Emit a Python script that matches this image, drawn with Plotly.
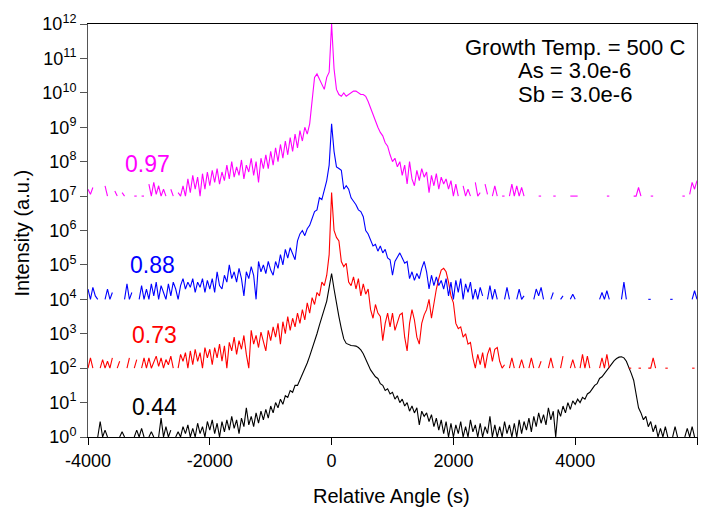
import plotly.graph_objects as go

# Measurement grid: relative angle (arc-seconds), 40 s step
angle = list(range(-4000, 6001, 40))

# log10(intensity) (None = no counts -> gap on log axis)
log_int_097 = [
    7.2, 7.05, 7.25, None, None, None, None, 7.3, 7.0, None, None, 7.15, 7.0, None, 7.1, 7.0, None, None, None, 7.0, 7.0, None, 7.0, 7.0, None,
    7.35, 7.0, 7.4, 7.05, 7.3, 7.0, 7.2, 7.0, None, 7.2, 7.0, None, 7.1, 7.0, 7.3, 7.0, 7.5, 7.1, 7.6, 7.2, 7.55, 7.0, 7.65, 7.2, 7.7,
    7.3, 7.75, 7.4, 7.8, 7.35, 7.7, 7.45, 7.9, 7.5, 8.0, 7.55, 7.85, 7.6, 8.05, 7.5, 7.9, 7.7, 8.1, 7.6, 8.0, 7.4, 8.1, 7.8, 8.2, 7.8,
    8.3, 7.9, 8.4, 8.0, 8.5, 8.1, 8.6, 8.2, 8.7, 8.3, 8.8, 8.4, 8.9, 8.6, 9.0, 8.8, 9.1, 9.7, 10.45, 10.55, 10.4, 10.2, 10.1, 10.45, 10.6,
    12.0,
    10.7, 10.1, 9.95, 9.9, 10.0, 9.9, 9.95, 10.0, 10.05, 10.05, 10.0, 9.95, 9.95, 9.9, 9.75, 9.55, 9.4, 9.2, 9.0, 8.85, 8.75, 8.55, 8.45, 8.2,
    8.0, 8.1, 7.85, 8.0, 7.6, 7.9, 7.35, 8.0, 7.5, 7.3, 7.75, 7.45, 7.8, 7.55, 7.7, 7.1, 7.6, 7.3, 7.65, 7.2, 7.55, 7.35, 7.5, 7.2, 7.45,
    7.0, 7.35, 7.0, None, 7.3, 7.0, 7.2, 7.0, None, 7.4, 7.0, 7.1, None, 7.35, 7.05, None, 7.0, 7.3, 7.0, None, 7.0, 7.0, None, 7.0, 7.35,
    7.0, 7.3, 7.0, 7.25, 7.0, None, None, None, None, None, 7.0, 7.0, None, None, None, None, 7.0, 7.0, None, None, None, None, None, 7.0, 7.0,
    7.0, 7.0, None, None, None, None, None, None, None, None, None, None, None, 7.0, 7.0, None, None, None, None, None, None, None, None, None, 7.0,
    7.0, 7.25, 7.0, None, None, None, 7.0, 7.0, None, None, None, None, None, None, None, None, None, None, None, 7.0, 7.0, None, 7.05, 7.4, 7.2, 7.45,
]

log_int_088 = [
    4.3, 4.0, 4.35, 4.1, 4.0, None, None, 4.0, 4.3, 4.0, 4.2, None, None, None, None, 4.0, 4.45, 4.0, 4.2, None, None, 4.0, 4.4, 4.0, 4.3,
    4.0, 4.45, 4.1, 4.5, 4.0, 4.4, 4.2, 4.0, 4.45, 4.1, 4.5, 4.3, 4.0, 4.4, 4.6, 4.3, 4.5, 4.35, 4.6, 4.2, 4.5, 4.35, 4.6, 4.2, 4.55,
    4.3, 4.6, 4.2, 4.8, 4.4, 4.3, 4.7, 4.5, 5.0, 4.6, 4.8, 4.5, 4.9, 4.6, 4.1, 4.8, 4.6, 4.95, 4.7, 4.0, 5.1, 4.8, 5.0, 4.75, 5.1,
    4.85, 4.7, 5.1, 4.9, 5.3, 5.0, 5.45, 5.2, 5.5, 5.3, 5.15, 5.7, 5.9, 6.0, 5.85, 6.05, 6.15, 6.35, 6.55, 6.6, 6.95, 6.9, 7.2, 7.45, 7.9,
    9.1,
    8.3, 7.85, 7.8, 7.75, 7.2, 7.3, 7.2, 6.95, 6.85, 6.75, 6.6, 6.55, 6.4, 6.0, 5.9, 5.7, 5.55, 5.6, 5.4, 5.55, 5.35, 5.45, 5.2, 5.15,
    4.7, 5.1, 5.25, 5.35, 5.2, 5.05, 5.1, 4.6, 4.8, 4.55, 4.75, 4.6, 4.9, 5.1, 4.8, 4.3, 4.7, 4.4, 4.65, 4.4, 4.55, 4.3, 4.6, 4.1, 4.5,
    4.0, 4.55, 4.2, 4.6, 4.0, 4.45, 4.2, 4.5, 4.0, 4.3, 4.0, 4.35, 4.1, None, 4.0, 4.4, 4.0, 4.3, 4.0, None, None, 4.0, 4.35, 4.0, None,
    None, 4.0, 4.3, 4.0, 4.1, None, None, None, 4.0, 4.3, 4.1, 4.35, 4.0, None, None, 4.0, 4.2, None, None, 4.0, 4.1, None, None, 4.0, 4.15,
    4.0, None, None, None, None, None, None, None, None, None, 4.0, 4.2, 4.0, 4.25, 4.0, None, None, None, None, 4.0, 4.5, 4.0, None, None, None,
    None, None, None, None, None, 4.0, 4.0, None, None, None, None, None, None, None, 4.0, 4.0, None, None, None, None, None, None, None, 4.0, 4.25, 4.0,
]

log_int_073 = [
    2.0, 2.3, 2.0, None, None, 2.0, 2.25, 2.0, 2.2, 2.0, 2.3, None, 2.0, 2.2, None, None, 2.0, 2.3, None, 2.0, 2.25, None, 2.0, 2.3, 2.0,
    2.3, 2.0, 2.2, 2.35, 2.05, 2.3, 2.0, 2.25, 2.1, 2.35, 2.0, None, 2.0, 2.4, 2.2, 2.45, 2.0, 2.5, 2.1, 2.55, 2.2, 2.45, 2.0, 2.6, 2.3,
    2.55, 2.1, 2.6, 2.3, 2.7, 2.2, 2.65, 2.0, 2.75, 2.5, 2.9, 2.4, 2.8, 2.55, 2.95, 2.4, 2.0, 3.1, 2.7, 2.95, 2.6, 3.05, 2.8, 2.5, 3.1,
    2.8, 3.2, 2.9, 3.3, 2.7, 3.35, 3.0, 3.5, 3.1, 3.45, 3.2, 3.6, 3.3, 3.7, 3.4, 3.9, 3.6, 4.05, 3.85, 4.2, 4.1, 4.5, 4.4, 4.7, 5.3,
    7.1,
    6.0, 5.8, 5.7, 5.1, 4.95, 5.05, 4.5, 4.4, 4.65, 4.3, 4.6, 4.1, 4.45, 4.15, 4.3, 3.7, 3.45, 3.85, 3.6, 3.5, 2.8, 3.3, 3.6, 3.2,
    3.6, 3.1, 3.3, 3.55, 3.6, 2.9, 2.5, 3.3, 3.7, 3.4, 2.9, 2.7, 3.3, 3.55, 3.7, 4.0, 3.45, 3.9, 4.3, 4.6, 4.85, 4.9, 4.8, 4.5, 4.1,
    3.9, 3.3, 3.15, 3.2, 2.9, 3.0, 2.7, 2.75, 2.3, 2.0, 2.4, 2.1, 2.45, 2.0, 2.4, 2.6, 2.2, 2.55, 2.6, 2.2, 2.0, 2.1, None, 2.0, 2.3,
    2.0, None, 2.0, 2.25, 2.0, None, 2.0, 2.3, 2.0, None, 2.0, 2.2, None, None, 2.0, 2.3, 2.0, None, None, 2.0, 2.35, None, None, 2.0, 2.25,
    2.0, None, 2.0, 2.4, 2.0, 2.35, 2.0, None, None, None, 2.0, 2.3, 2.0, 2.4, 2.0, None, None, None, None, None, None, None, 2.0, 2.0, None,
    None, 2.0, 2.0, None, None, 2.0, 2.0, 2.3, 2.0, None, None, None, 2.0, 2.0, None, None, None, None, None, None, None, None, None, 2.0, 2.0, None,
]

log_int_044 = [
    None, None, None, None, 0.0, 0.45, 0.0, 0.2, 0.0, None, None, None, None, 0.0, 0.15, 0.0, None, None, None, 0.0, 0.2, 0.0, 0.25, 0.0, None,
    0.0, 0.15, 0.0, None, 0.0, 0.55, 0.0, 0.3, 0.0, 0.2, None, 0.0, 0.15, 0.0, 0.3, 0.1, 0.35, 0.0, 0.25, 0.0, 0.4, 0.1, 0.3, 0.0, 0.45,
    0.2, 0.5, 0.1, 0.4, 0.0, 0.45, 0.15, 0.5, 0.2, 0.6, 0.25, 0.5, 0.1, 0.55, 0.3, 0.85, 0.35, 0.6, 0.3, 0.7, 0.4, 0.75, 0.5, 0.8, 0.55,
    0.9, 0.7, 1.0, 0.85, 1.1, 0.95, 1.2, 1.15, 1.35, 1.3, 1.5, 1.5, 1.65, 1.8, 1.95, 2.15, 2.35, 2.55, 2.8, 3.0, 3.25, 3.5, 3.75, 3.95, 4.35,
    4.75,
    4.3, 3.85, 3.5, 3.15, 2.85, 2.72, 2.68, 2.66, 2.65, 2.64, 2.6, 2.53, 2.42, 2.25, 2.1, 1.95, 1.85, 1.75, 1.7, 1.55, 1.5, 1.35, 1.4, 1.25,
    1.3, 1.1, 1.2, 1.0, 1.1, 0.9, 1.0, 0.75, 0.9, 0.7, 0.85, 0.35, 0.75, 0.6, 0.7, 0.45, 0.65, 0.3, 0.55, 0.2, 0.5, 0.1, 0.45, 0.0, 0.4,
    0.0, 0.35, 0.1, 0.45, 0.0, 0.3, 0.0, 0.5, 0.15, 0.35, 0.0, 0.4, 0.0, 0.3, 0.1, 0.6, 0.0, 0.35, 0.0, 0.3, 0.0, 0.45, 0.1, 0.35, 0.0,
    0.4, 0.0, 0.5, 0.1, 0.45, 0.2, 0.55, 0.15, 0.6, 0.3, 0.7, 0.4, 0.65, 0.35, 0.85, 0.5, 0.75, 0.0, 0.8, 0.6, 0.9, 0.7, 1.0, 0.8, 1.05,
    0.95, 1.1, 1.0, 1.15, 1.1, 1.25, 1.3, 1.4, 1.5, 1.55, 1.7, 1.75, 1.85, 1.95, 2.05, 2.15, 2.22, 2.28, 2.32, 2.33, 2.3, 2.2, 2.05, 1.85, 1.65,
    1.2, 0.85, 0.7, 0.5, 0.6, 0.3, 0.45, 0.15, 0.35, 0.0, 0.25, 0.0, 0.3, 0.0, None, 0.0, 0.3, 0.0, None, None, 0.0, 0.25, 0.0, 0.3, 0.0, None,
]

series_labels = ["0.44", "0.73", "0.88", "0.97"]
series_colors = ["#000000", "#FF0000", "#0000FF", "#FF00FF"]
series_logs = [log_int_044, log_int_073, log_int_088, log_int_097]
label_x = [-2900, -2916, -2941, -3015]
label_logy = [0.87, 2.97, 5.0, 7.94]

y_tick_exp = list(range(0, 13))
x_tick_vals = [-4000, -2000, 0, 2000, 4000, 6000]

info_lines = ["Growth Temp. = 500 C", "As = 3.0e-6", "Sb = 3.0e-6"]

FONT = "Liberation Sans, Arial, Helvetica, sans-serif"

fig = go.Figure()
for lab, col, logs in zip(series_labels, series_colors, series_logs):
    assert len(logs) == len(angle), (lab, len(logs))
    yvals = [None if v is None else 10 ** v for v in logs]
    fig.add_trace(go.Scatter(
        x=angle, y=yvals, mode="lines", name=lab,
        line=dict(color=col, width=1.1), connectgaps=False,
        hoverinfo="skip",
    ))

annotations = []
for lab, col, lx, ly in zip(series_labels, series_colors, label_x, label_logy):
    annotations.append(dict(x=lx, y=ly, xref="x", yref="y", text=lab,
                            showarrow=False, xanchor="center", yanchor="middle",
                            font=dict(family=FONT, size=23, color=col)))

for txt, py in zip(info_lines, [0.943, 0.887, 0.830]):
    annotations.append(dict(x=0.799, y=py, xref="paper", yref="paper", text=txt,
                            showarrow=False, xanchor="center", yanchor="middle",
                            font=dict(family=FONT, size=22, color="#000000")))

annotations.append(dict(x=0.499, y=-0.143, xref="paper", yref="paper",
                        text="Relative Angle (s)", showarrow=False,
                        xanchor="center", yanchor="middle",
                        font=dict(family=FONT, size=20, color="#000000")))
annotations.append(dict(x=-0.108, y=0.493, xref="paper", yref="paper",
                        text="Intensity (a.u.)", showarrow=False, textangle=-90,
                        xanchor="center", yanchor="middle",
                        font=dict(family=FONT, size=20, color="#000000")))

fig.update_layout(
    width=717, height=512,
    margin=dict(l=88, r=20, t=17, b=75),
    paper_bgcolor="white", plot_bgcolor="white",
    showlegend=False,
    font=dict(family=FONT, size=18, color="#000000"),
    annotations=annotations,
    xaxis=dict(
        range=[-4000, 6000], tickvals=x_tick_vals,
        ticktext=[str(v) for v in x_tick_vals],
        ticks="outside", ticklen=7, tickwidth=1, tickcolor="#000000",
        showline=True, linecolor="#000000", linewidth=1, mirror=True,
        showgrid=False, zeroline=False,
        tickfont=dict(family=FONT, size=18),
    ),
    yaxis=dict(
        type="log", range=[0, 12],
        tickvals=[10 ** e for e in y_tick_exp],
        ticktext=["10<sup>%d</sup>" % e for e in y_tick_exp],
        ticks="outside", ticklen=7, tickwidth=1, tickcolor="#555555",
        showline=True, linecolor="#555555", linewidth=1, mirror=True,
        showgrid=False, zeroline=False,
        tickfont=dict(family=FONT, size=18),
    ),
)

fig.write_html("out.html")
